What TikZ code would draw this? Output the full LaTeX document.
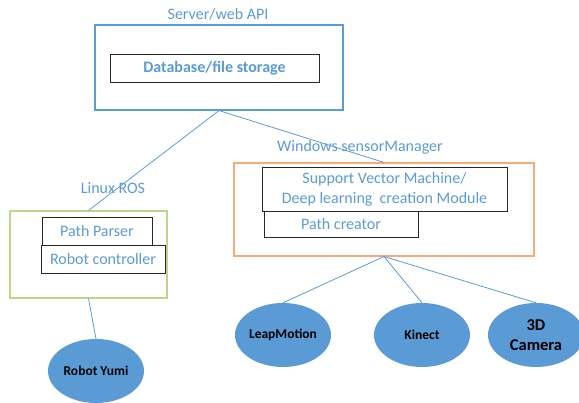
\documentclass[tikz,border=0pt]{standalone}
\usepackage{fontspec}
\setmainfont{Carlito}
\usepackage{xcolor}
\usetikzlibrary{positioning,shapes.geometric}
\definecolor{officeBlue}{RGB}{91,155,213}
\definecolor{officeOrange}{RGB}{247,170,122}
\definecolor{officeGreen}{RGB}{190,214,140}
\definecolor{boxGray}{RGB}{40,40,40}
\tikzset{
  hostbox/.style={draw, line width=1.1pt, minimum width=#1, inner sep=0pt},
  modbox/.style={draw=boxGray, line width=0.9pt, text=officeBlue, align=center,
    inner sep=0pt, font=\fontsize{16}{20}\selectfont},
  hostlabel/.style={text=officeBlue, inner sep=0pt, font=\fontsize{16}{20}\selectfont},
  device/.style={ellipse, fill=officeBlue, minimum width=96pt, minimum height=64pt,
    inner sep=0pt, align=center, font=\bfseries\fontsize{13.5}{16}\selectfont},
  link/.style={draw=officeBlue, line width=0.8pt}
}
\begin{document}
\begin{tikzpicture}[x=1pt,y=-1pt]
    \useasboundingbox (0,0) rectangle (579,403);

    % server
    \node[hostbox=248pt, draw=officeBlue, minimum height=85pt] (server) at (219,67.5) {};
    \node[hostlabel] (serverlbl) at (218,14) {Server/web API};
    \node[modbox, minimum width=209pt, minimum height=28pt,
        font=\bfseries\fontsize{16}{20}\selectfont] (db) at (214.5,68) {Database/file storage};

    % linux side
    \node[hostbox=157pt, draw=officeGreen, minimum height=87pt] (linux) at (88.5,254.5) {};
    \node[hostlabel] (linuxlbl) at (113,188) {Linux ROS};
    \node[modbox, minimum width=110pt, minimum height=28pt] (parser) at (97,231) {Path Parser};
    \node[modbox, minimum width=124pt, minimum height=28pt] (ctrl) at (103,259) {Robot controller};
    \node[device] (yumi) at (96,371) {Robot Yumi};

    % windows side
    \node[hostbox=300pt, draw=officeOrange, minimum height=93pt] (win) at (384,209.5) {};
    \node[hostlabel] (winlbl) at (360,147) {Windows sensorManager};
    \node[modbox, minimum width=245pt, minimum height=44pt] (svm) at (384.5,189)
        {Support Vector Machine/\\Deep learning\ \ creation Module};
    \node[modbox, minimum width=154pt, minimum height=26pt] (creator) at (341,224) {Path creator};
    \node[device] (leap) at (283,335) {LeapMotion};
    \node[device] (kinect) at (422,335) {Kinect};
    \node[device, font=\bfseries\fontsize{16.5}{20}\selectfont] (cam) at (536,335) {3D\\Camera};

    % links
    \draw[link] (server.south) -- (linux.north);
    \draw[link] (server.south) -- (win.north);
    \draw[link] (linux.south) -- (yumi.north);
    \foreach \dev in {leap,kinect,cam}
        \draw[link] (win.south) -- (\dev.north);
\end{tikzpicture}
\end{document}
